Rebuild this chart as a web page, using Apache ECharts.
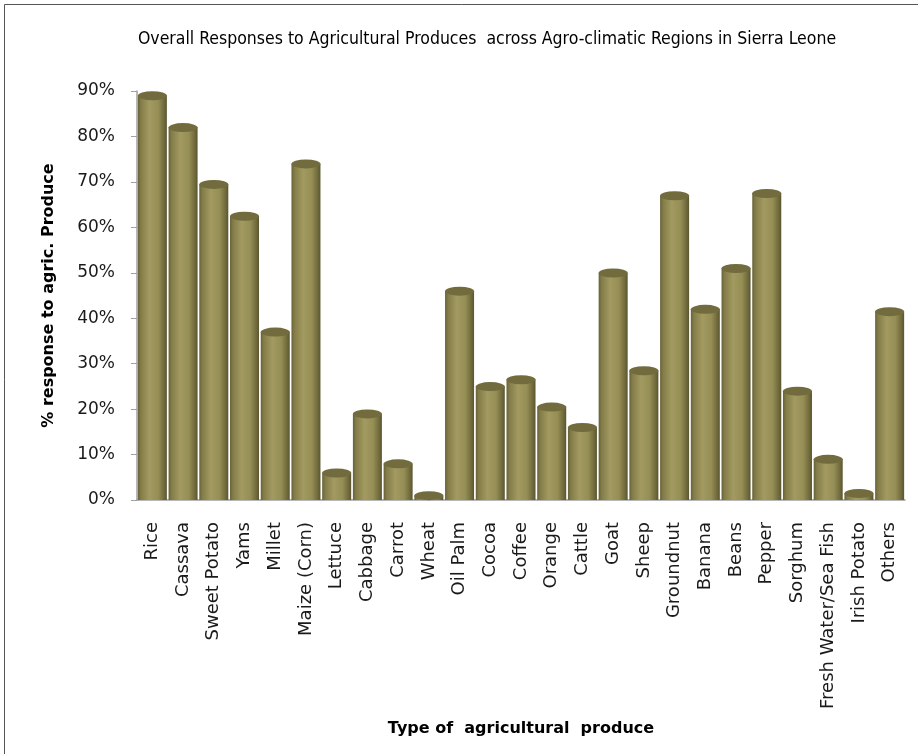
<!DOCTYPE html>
<html><head><meta charset="utf-8">
<script src="https://cdn.jsdelivr.net/npm/echarts@6/dist/echarts.min.js"></script>
<style>html,body{margin:0;padding:0;background:#fff}#c{width:918px;height:754px}</style>
</head><body><div id="c"></div>
<script>
const categories = ["Rice","Cassava","Sweet Potato","Yams","Millet","Maize (Corn)","Lettuce","Cabbage","Carrot","Wheat","Oil Palm","Cocoa","Coffee","Orange","Cattle","Goat","Sheep","Groundnut","Banana","Beans","Pepper","Sorghum","Fresh Water/Sea Fish","Irish Potato","Others"];
const values = [89, 82, 69.5, 62.5, 37, 74, 6, 19, 8, 1, 46, 25, 26.5, 20.5, 16, 50, 28.5, 67, 42, 51, 67.5, 24, 9, 1.5, 41.5];
const yTicks = [0, 10, 20, 30, 40, 50, 60, 70, 80, 90];

const chart = echarts.init(document.getElementById('c'));
const fontF = '"DejaVu Sans", sans-serif';
const condF = '"DejaVu Sans Condensed", "Liberation Sans Narrow", "DejaVu Sans", sans-serif';
const bodyGrad = new echarts.graphic.LinearGradient(0,0,1,0,[
  {offset:0,color:'#67613a'},{offset:0.1,color:'#837c48'},{offset:0.4,color:'#a29a60'},
  {offset:0.7,color:'#958e55'},{offset:0.9,color:'#716b3d'},{offset:1,color:'#5a5530'}]);
chart.setOption({
  animation:false,
  title:{text:'Overall Responses to Agricultural Produces  across Agro-climatic Regions in Sierra Leone',
    left:482, textAlign:'center', top:25, textStyle:{fontFamily:condF,fontSize:17.5,fontWeight:'normal',color:'#000'}},
  grid:{left:137,right:13,top:91,bottom:254,containLabel:false},
  xAxis:{type:'category',data:categories,
    axisLine:{lineStyle:{color:'#a0a0a0',width:1.5}},axisTick:{show:false},
    axisLabel:{rotate:90,interval:0,color:'#1a1a1a',fontFamily:fontF,fontSize:18,margin:22},
    name:'Type of  agricultural  produce',nameLocation:'middle',nameGap:221,
    nameTextStyle:{fontFamily:fontF,fontSize:16,fontWeight:'bold',color:'#000'}},
  yAxis:{type:'value',min:0,max:90,interval:10,
    axisLine:{show:true,lineStyle:{color:'#a0a0a0',width:1.5}},
    axisTick:{show:true,length:6,lineStyle:{color:'#a0a0a0'}},
    splitLine:{show:false},
    axisLabel:{formatter:v=>yTicks.includes(v)?v+'%':'',color:'#1a1a1a',fontFamily:fontF,fontSize:17,margin:22},
    name:'% response to agric. Produce',nameLocation:'middle',nameGap:80,
    nameTextStyle:{fontFamily:fontF,fontSize:16,fontWeight:'bold',color:'#000'}},
  series:[
    {type:'bar',data:values,barWidth:29,itemStyle:{color:bodyGrad},z:2},
    {type:'pictorialBar',data:values,symbol:'circle',symbolSize:[29,9],symbolPosition:'end',
      symbolOffset:[0,'-50%'],itemStyle:{color:'#716b3d',borderColor:'#8c8550',borderWidth:0.8},z:3}
  ],
  graphic:[{type:'rect',shape:{x:4.5,y:4.5,width:920,height:760},style:{fill:'none',stroke:'#555',lineWidth:1},silent:true}]
});
</script></body></html>
